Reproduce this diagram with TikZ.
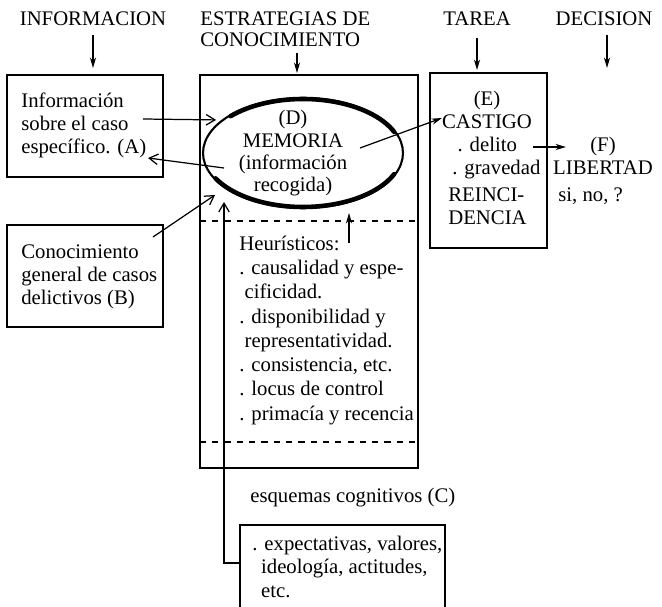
\documentclass[tikz,border=0pt]{standalone}
\usepackage{fontspec}
\setmainfont{Liberation Serif}
\usetikzlibrary{arrows.meta,fit,shapes.geometric}
\begin{document}
\begin{tikzpicture}[x=0.02cm,y=-0.02cm]
	\tikzstyle{txt}=[inner sep=0pt,font=\fontsize{11.8}{13.3}\selectfont,align=left,anchor=base west]
	\tikzstyle{ctxt}=[txt,align=center,anchor=base]
	\tikzstyle{box}=[draw,line width=1pt,inner sep=0pt]
	\tikzstyle{arr}=[line width=0.7pt,-{Straight Barb[length=5pt,width=6pt]}]
	\tikzstyle{harr}=[line width=0.7pt,-{Stealth[length=6pt,width=3.5pt]}]
	\tikzstyle{dashline}=[line width=0.6pt,dash pattern=on 3.5pt off 3.5pt]
	\tikzstyle{ellthick}=[line width=2.6pt,line cap=round,samples=60]
	\useasboundingbox (0,0) rectangle (662,607);
	% columns (multi-line texts sit on the baseline of their last line)
	\node[ctxt] (hinf) at (93,26) {INFORMACION};
	\node[txt,font=\fontsize{11.8}{12}\selectfont] (hest) at (200,47) {ESTRATEGIAS DE\\CONOCIMIENTO};
	\node[ctxt] (htar) at (477,26) {TAREA};
	\node[ctxt] (hdec) at (604,26) {DECISION};
	\foreach \n/\x/\a/\b in {inf/93/35/68, est/297/53/73, tar/477/38/70, dec/607/35/68}
	{
		\coordinate (\n1) at (\x,\a);
		\coordinate (\n2) at (\x,\b);
		\draw[harr] (\n1) -- (\n2);
	}
	% boxes
	\foreach \n/\x/\y/\u/\v in {A/7/75/163/177, B/7/225/163/327, M/200/75/418/468, E/430/73/547/248, C/240/525/445/625}
	{
		\coordinate (\n1) at (\x,\y);
		\coordinate (\n2) at (\u,\v);
		\node[box,fit=(\n1)(\n2)] (box\n) {};
	}
	\node[txt] (tA) at (21,154) {Información\\sobre el caso\\específico. (A)};
	\node[txt] (tB) at (21,305) {Conocimiento\\general de casos\\delictivos (B)};
	\node[draw,ellipse,line width=1.2pt,minimum width=4cm,minimum height=2.2cm,inner sep=0pt] (mem) at (303,153) {};
	\draw[ellthick,domain=-23:-137] plot ({303+99*cos(\x)},{153+54*sin(\x)});
	\draw[ellthick,domain=23:152] plot ({303+99*cos(\x)},{153+54*sin(\x)});
	\node[ctxt,font=\fontsize{11.8}{12.8}\selectfont] (tD) at (293,192) {(D)\\MEMORIA\\(información\\recogida)};
	\coordinate (d1) at (200,221);
	\coordinate (d2) at (418,221);
	\coordinate (d3) at (200,442);
	\coordinate (d4) at (418,442);
	\draw[dashline] (d1) -- (d2);
	\draw[dashline] (d3) -- (d4);
	\node[txt,font=\fontsize{11.8}{13.8}\selectfont] (tH) at (239,420) {Heurísticos:\\. causalidad y espe-\\\hspace{3pt}cificidad.\\. disponibilidad y\\\hspace{3pt}representatividad.\\. consistencia, etc.\\. locus de control\\. primacía y recencia};
	\node[txt] (tC) at (250,502) {esquemas cognitivos (C)};
	\node[txt] (tCl) at (252,597) {. expectativas, valores,\\\hspace{5pt}ideología, actitudes,\\\hspace{5pt}etc.};
	\node[ctxt] (tE) at (487,129) {(E)\\CASTIGO};
	\node[txt] (tEl) at (452,175) {\hspace{3pt}. delito\\. gravedad};
	\node[txt] (tR) at (448,225) {REINCI-\\DENCIA};
	\node[ctxt] (tF) at (603,175) {(F)\\LIBERTAD};
	\node[txt] (tS) at (558,202) {si, no, ?};
	% arrows
	\coordinate (pA) at (143,119);
	\coordinate (pAi) at (224,168);
	\coordinate (pAo) at (148,158);
	\coordinate (pB) at (153,237);
	\coordinate (pBo) at (215,195);
	\coordinate (pM) at (360,148);
	\coordinate (pE) at (442,118);
	\coordinate (pL) at (533,147);
	\coordinate (pF) at (566,147);
	\coordinate (pJ) at (224,563);
	\coordinate (pU) at (224,202);
	\coordinate (pH1) at (349,243);
	\coordinate (pH2) at (349,213);
	\draw[arr,shorten >=3pt] (pA) -- (mem.158);
	\draw[arr] (pAi) -- (pAo);
	\draw[arr] (pB) -- (pBo);
	\draw[harr] (pM) -- (pE);
	\draw[harr] (pL) -- (pF);
	\draw[arr] (boxC.west |- pJ) -- (pJ) -- (pU);
	\draw[harr] (pH1) -- (pH2);
\end{tikzpicture}
\end{document}
